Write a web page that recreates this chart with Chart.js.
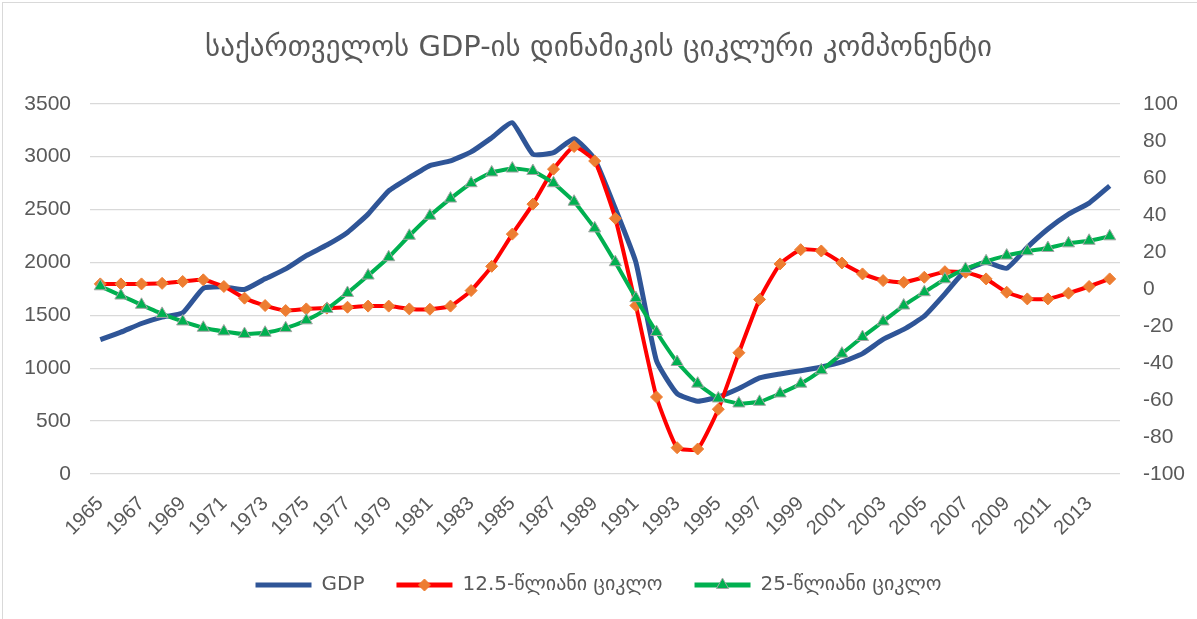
<!DOCTYPE html>
<html><head><meta charset="utf-8">
<script src="https://cdn.jsdelivr.net/npm/chart.js@4.4.0/dist/chart.umd.min.js"></script>
<style>
html,body{margin:0;padding:0;background:#fff;}
#wrap{position:relative;width:1197px;height:619px;overflow:hidden;}
#c{position:absolute;left:0;top:0;}
.bt{position:absolute;left:2px;top:2px;width:1195px;height:1px;background:#d9d9d9;}
.bl{position:absolute;left:2px;top:2px;width:1px;height:617px;background:#d9d9d9;}
</style></head><body>
<div id="wrap"><canvas id="c" width="1197" height="619"></canvas><div class="bt"></div><div class="bl"></div></div>
<script>
const years = ['1965','1966','1967','1968','1969','1970','1971','1972','1973','1974',
  '1975','1976','1977','1978','1979','1980','1981','1982','1983','1984',
  '1985','1986','1987','1988','1989','1990','1991','1992','1993','1994',
  '1995','1996','1997','1998','1999','2000','2001','2002','2003','2004',
  '2005','2006','2007','2008','2009','2010','2011','2012','2013','2014'];
const gdp = [1270,1341,1423,1483,1524,1756,1769,1744,1845,1939,
  2064,2165,2284,2457,2677,2802,2916,2960,3045,3179,
  3321,3023,3038,3170,2976,2510,2001,1070,760,688,
  729,808,908,946,977,1012,1059,1138,1272,1367,
  1492,1703,1923,2001,1945,2143,2316,2457,2561,2724];
const cycle12 = [2.7,2.7,2.7,3.0,4.0,4.9,1.3,-5.0,-9.0,-11.7,
  -10.8,-10.4,-9.9,-9.3,-9.3,-10.8,-11.0,-9.3,-0.9,12.2,
  29.6,45.8,64.7,76.9,69.1,38.1,-9.0,-58.4,-85.8,-86.5,
  -65.0,-34.5,-5.7,13.5,21.2,20.5,14.0,8.1,4.5,3.6,
  6.3,9.3,9.0,5.4,-1.8,-5.4,-5.4,-2.3,1.3,5.4];
const cycle25 = [1.4,-3.6,-8.6,-13.5,-17.6,-21.0,-23.0,-24.4,-23.7,-21.2,
  -17.0,-10.8,-2.2,7.2,17.1,28.7,39.5,48.8,57.1,62.9,
  65.0,63.7,57.1,47.1,32.7,14.4,-5.0,-23.3,-39.5,-51.2,
  -59.2,-61.9,-61.0,-56.5,-51.2,-44.0,-35.0,-26.0,-17.6,-9.0,
  -1.8,5.2,10.8,14.9,18.0,20.3,22.1,24.6,26.0,28.4];
const seriesNames = ['GDP','12.5-წლიანი ციკლო','25-წლიანი ციკლო'];
const titleText = 'საქართველოს GDP-ის დინამიკის ციკლური კომპონენტი';

const TXT = '#595959';
const NUMFONT = '"Liberation Sans", Arial, sans-serif';
const GEOFONT = '"DejaVu Sans", sans-serif';

function drawMarker(ctx, style, x, y, r, fill, stroke, bw){
  ctx.save();
  ctx.beginPath();
  if(style==='rectRot'){
    ctx.moveTo(x, y-r); ctx.lineTo(x+r, y); ctx.lineTo(x, y+r); ctx.lineTo(x-r, y);
  } else if(style==='triangle'){
    const a = 2*Math.PI/3;
    ctx.moveTo(x, y-r);
    ctx.lineTo(x+Math.sin(a)*r, y-Math.cos(a)*r);
    ctx.lineTo(x+Math.sin(2*a)*r, y-Math.cos(2*a)*r);
  }
  ctx.closePath();
  ctx.fillStyle = fill; ctx.fill();
  if(bw){ctx.lineWidth=bw; ctx.strokeStyle=stroke; ctx.stroke();}
  ctx.restore();
}

const legendMarkers = {
  id:'legendMarkers',
  afterDraw(chart){
    const lg = chart.legend;
    if(!lg || !lg.legendHitBoxes) return;
    const bw = lg.options.labels.boxWidth;
    lg.legendItems.forEach((item,i)=>{
      const ds = chart.data.datasets[item.datasetIndex];
      if(!ds.pointRadius) return;
      const hb = lg.legendHitBoxes[i];
      const x = hb.left + bw/2, y = hb.top + hb.height/2;
      drawMarker(chart.ctx, ds.pointStyle, x, y, ds.pointRadius, ds.pointBackgroundColor, ds.pointBorderColor, ds.pointBorderWidth);
    });
  }
};

new Chart(document.getElementById('c'), {
  type:'line',
  data:{
    labels: years,
    datasets:[
      {label:seriesNames[0], data:gdp, yAxisID:'y', borderColor:'#2F5597', backgroundColor:'#2F5597',
       borderWidth:5, pointRadius:0, tension:0.15, order:3},
      {label:seriesNames[1], data:cycle12, yAxisID:'y1', borderColor:'#FF0000', backgroundColor:'#FF0000',
       borderWidth:4, pointStyle:'rectRot', pointRadius:6, pointBackgroundColor:'#ED7D31', pointBorderColor:'#ED7D31',
       pointBorderWidth:1, tension:0.15, order:2},
      {label:seriesNames[2], data:cycle25, yAxisID:'y1', borderColor:'#00B050', backgroundColor:'#00B050',
       borderWidth:4, pointStyle:'triangle', pointRadius:7, pointBackgroundColor:'#00B050', pointBorderColor:'#A5A5A5',
       pointBorderWidth:1, tension:0.15, order:1}
    ]
  },
  options:{
    responsive:false, animation:false, devicePixelRatio:1,
    layout:{padding:{left:0,right:0,top:0,bottom:16}},
    plugins:{
      tooltip:{enabled:false},
      title:{display:true, text:titleText, color:TXT,
        font:{family:GEOFONT, size:29, weight:'normal'}, padding:{top:31,bottom:38}},
      legend:{position:'bottom', maxHeight:60,
        labels:{color:TXT, font:{family:GEOFONT, size:20}, boxWidth:56, boxHeight:5, padding:32,
          sort:(a,b)=>a.datasetIndex-b.datasetIndex,
          generateLabels(chart){
            const items = Chart.defaults.plugins.legend.labels.generateLabels(chart);
            items.forEach(it=>{const ds=chart.data.datasets[it.datasetIndex];
              it.fillStyle=ds.borderColor; it.strokeStyle=ds.borderColor; it.lineWidth=0;});
            return items;
          }}}
    },
    scales:{
      x:{offset:true, grid:{display:false}, border:{display:false},
        ticks:{color:TXT, font:{family:NUMFONT, size:20}, autoSkip:false, minRotation:45, maxRotation:45, padding:10,
          callback(v,i){return i%2===0 ? years[i] : '';}},
        afterFit(s){s.height=69;}},
      y:{position:'left', min:0, max:3500, grid:{color:'#D9D9D9', lineWidth:1.3, drawTicks:false}, border:{display:false},
        ticks:{stepSize:500, color:TXT, font:{family:NUMFONT, size:21}, padding:19, callback:(v)=>String(v)},
        afterFit(s){s.width=90;}},
      y1:{position:'right', min:-100, max:100, grid:{display:false, drawTicks:false}, border:{display:false},
        ticks:{stepSize:20, color:TXT, font:{family:NUMFONT, size:21}, padding:23, callback:(v)=>String(v)},
        afterFit(s){s.width=77;}}
    }
  },
  plugins:[legendMarkers]
});
</script>
</body></html>
